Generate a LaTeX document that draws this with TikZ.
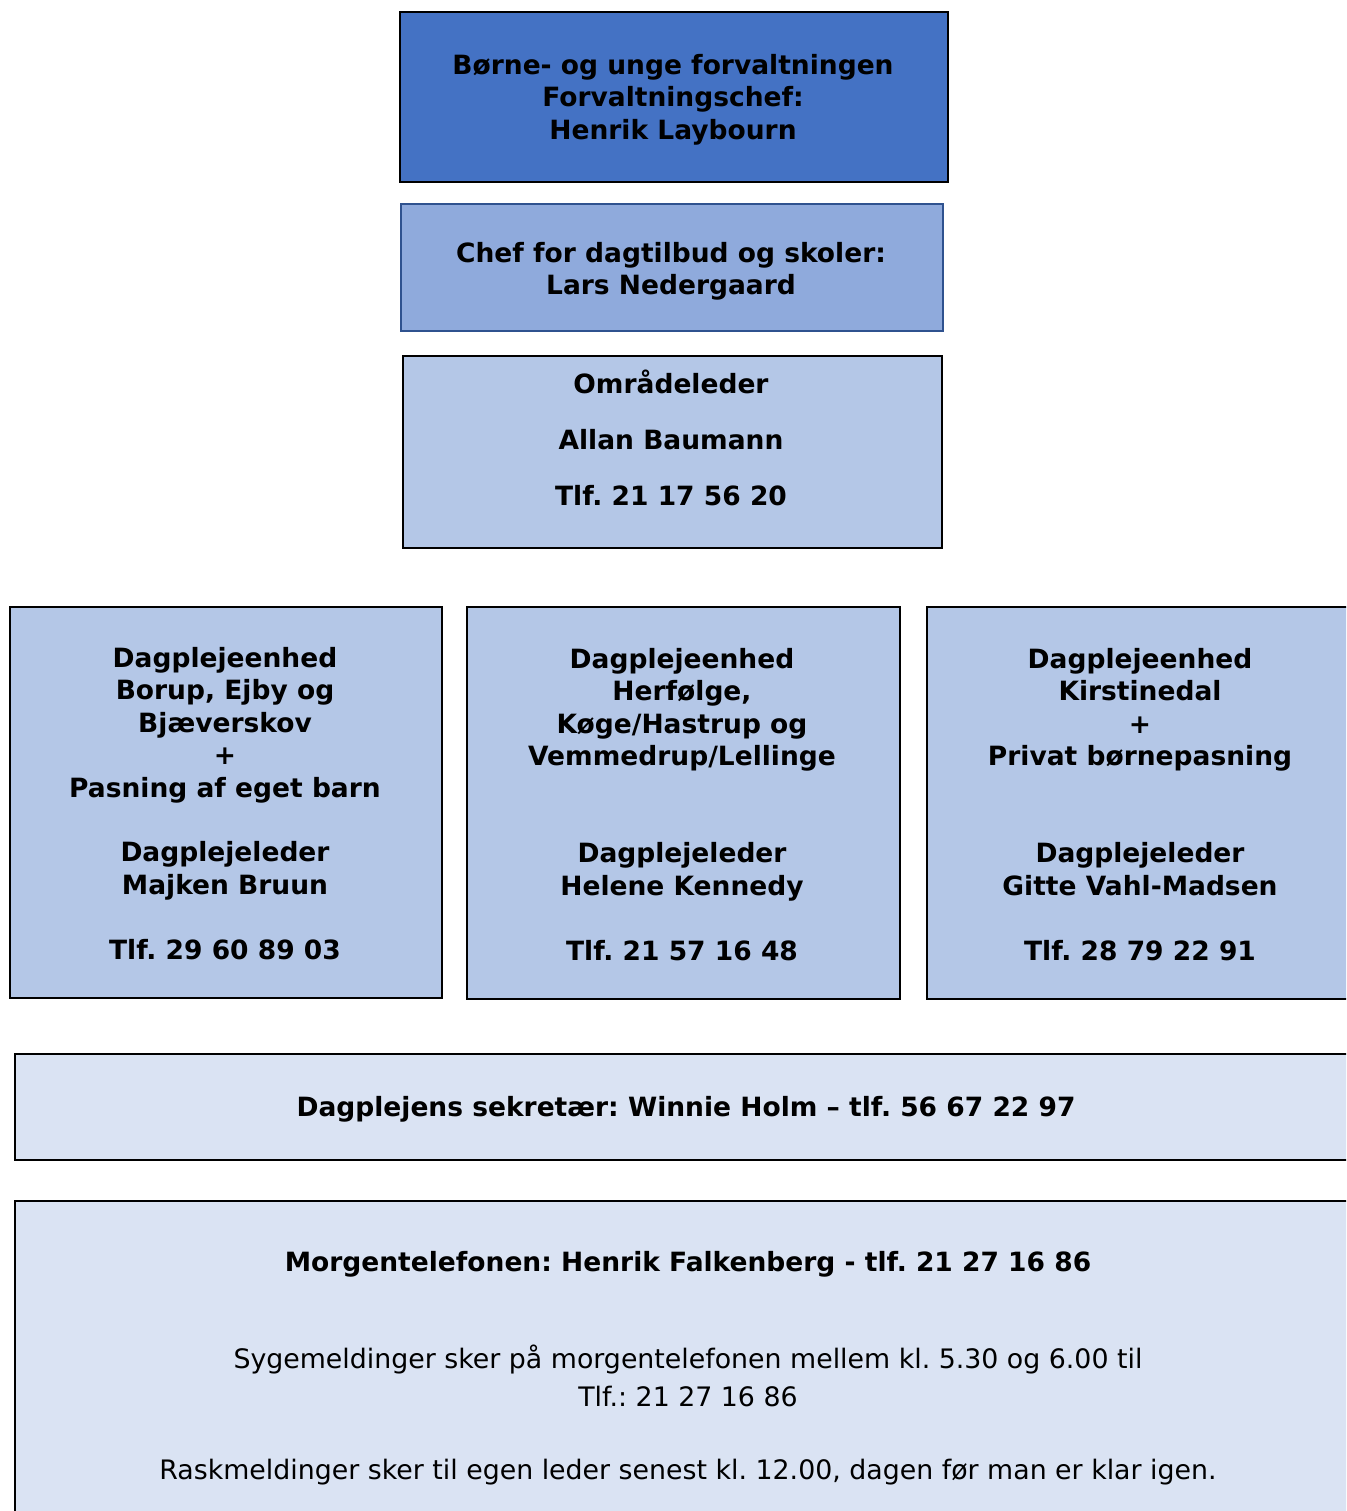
\documentclass[tikz,border=0pt]{standalone}
\usepackage{fontspec}
\setmainfont{DejaVu Sans}
\definecolor{cTop}{HTML}{4472C4}
\definecolor{cMid}{HTML}{8FAADC}
\definecolor{cMidLine}{HTML}{2F528F}
\definecolor{cUnit}{HTML}{B4C7E7}
\definecolor{cLight}{HTML}{DAE3F3}
\begin{document}
\frenchspacing
\begin{tikzpicture}[x=1pt,y=-1pt,
  box/.style={draw=black, line width=1.6pt, rectangle, inner sep=0pt, anchor=north west},
  btxt/.style={align=center, inner sep=0pt, font=\fontsize{26.5}{32.4}\selectfont\bfseries},
  ntxt/.style={align=center, inner sep=0pt, font=\fontsize{26.8}{38}\selectfont}]
\useasboundingbox (0,0) rectangle (1346,1511);
\clip (0,0) rectangle (1346,1511);
% boxes
\node[box, fill=cTop, minimum width=548pt, minimum height=170pt] (b1) at (399,11) {};
\node[box, fill=cMid, draw=cMidLine, minimum width=542pt, minimum height=127pt] (b2) at (400,203) {};
\node[box, fill=cUnit, minimum width=539pt, minimum height=192pt] (b3) at (402,355) {};
\node[box, fill=cUnit, minimum width=432pt, minimum height=391pt] (uL) at (9,606) {};
\node[box, fill=cUnit, minimum width=433pt, minimum height=392pt] (uM) at (466,606) {};
\node[box, fill=cUnit, minimum width=428pt, minimum height=392pt] (uR) at (926,606) {};
\node[box, fill=cLight, minimum width=1344pt, minimum height=106pt] (sek) at (14,1053) {};
\node[box, fill=cLight, minimum width=1348pt, minimum height=340pt] (morg) at (14,1200) {};
% texts
\node[btxt] (t1) at (673,99.5) {Børne- og unge forvaltningen\\Forvaltningschef:\\Henrik Laybourn};
\node[btxt] (t2) at (671,271) {Chef for dagtilbud og skoler:\\Lars Nedergaard};
\node[btxt] (t3) at (671,438) {Områdeleder\\[23.6pt]Allan Baumann\\[23.6pt]Tlf. 21 17 56 20};
\node[btxt] (tL) at (225,803.5) {Dagplejeenhed\\Borup, Ejby og\\Bjæverskov\\+\\Pasning af eget barn\\[32.4pt]Dagplejeleder\\Majken Bruun\\[32.4pt]Tlf. 29 60 89 03};
\node[btxt] (tM) at (682,804.5) {Dagplejeenhed\\Herfølge,\\Køge/Hastrup og\\Vemmedrup/Lellinge\\[64.8pt]Dagplejeleder\\Helene Kennedy\\[32.4pt]Tlf. 21 57 16 48};
\node[btxt] (tR) at (1140,804.5) {Dagplejeenhed\\Kirstinedal\\+\\Privat børnepasning\\[64.8pt]Dagplejeleder\\Gitte Vahl-Madsen\\[32.4pt]Tlf. 28 79 22 91};
\node[btxt] (tS) at (686,1109) {Dagplejens sekretær: Winnie Holm – tlf. 56 67 22 97};
\node[btxt] (tMo) at (688,1264) {Morgentelefonen: Henrik Falkenberg - tlf. 21 27 16 86};
\node[ntxt] (tSy) at (688,1376) {Sygemeldinger sker på morgentelefonen mellem kl. 5.30 og 6.00 til\\Tlf.: 21 27 16 86};
\node[ntxt] (tRa) at (688,1472) {Raskmeldinger sker til egen leder senest kl. 12.00, dagen før man er klar igen.};
\end{tikzpicture}
\end{document}
